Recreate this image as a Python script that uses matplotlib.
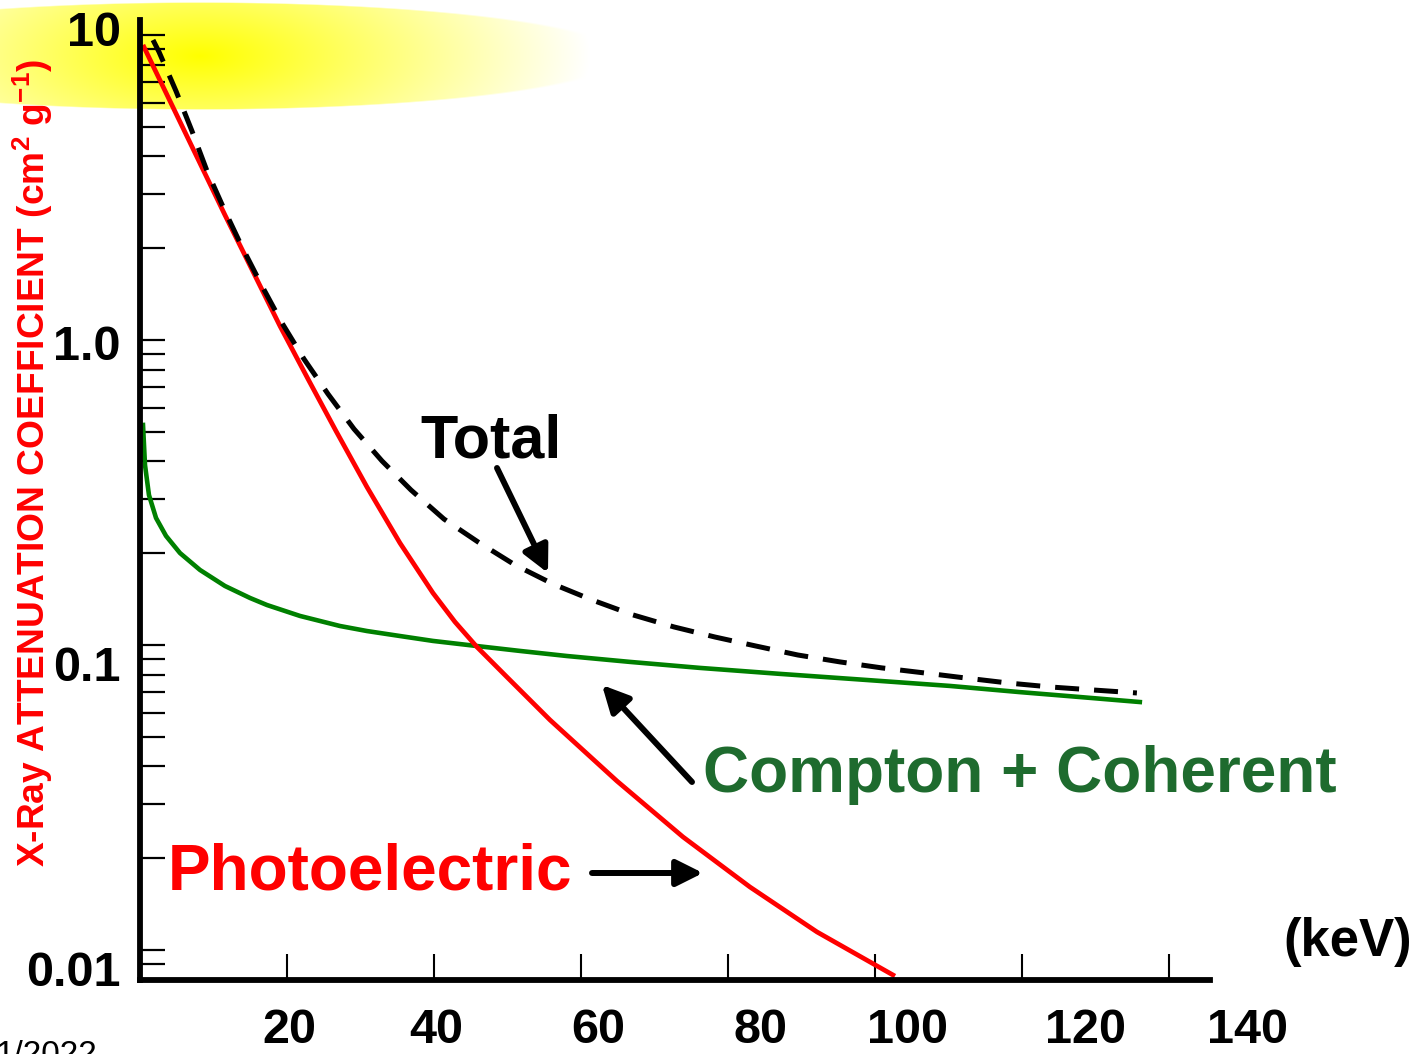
import numpy as np
import matplotlib
matplotlib.use("Agg")
import matplotlib.pyplot as plt
from matplotlib.ticker import FixedLocator, LogLocator, NullFormatter
from matplotlib.transforms import ScaledTranslation

# photon energy (keV) vs mass attenuation coefficient (cm^2/g)
photo_kev = [0.54, 11.56, 19.05, 22.86, 26.67, 30.88, 35.37, 39.86, 42.86,
             45.85, 49.93, 55.78, 64.90, 73.88, 82.99, 92.11, 102.45]
photo_mu = [9.13, 2.569, 1.111, 0.745, 0.503, 0.3296, 0.216, 0.1481, 0.119,
            0.0985, 0.0785, 0.0568, 0.0358, 0.02348, 0.01609, 0.01146, 0.00828]

total_kev = [1.77, 2.59, 4.90, 7.07, 9.12, 11.43, 13.88, 16.60, 19.32, 22.31,
             25.58, 29.12, 32.93, 36.87, 41.36, 45.99, 51.02, 56.19, 61.50,
             67.07, 72.65, 78.23, 83.81, 89.52, 95.24, 100.95, 106.67, 112.38,
             118.23, 123.95, 129.66, 135.65]
total_mu = [9.63, 8.80, 6.55, 4.844, 3.582, 2.689, 2.018, 1.503, 1.137, 0.8663,
            0.6653, 0.5108, 0.4012, 0.3223, 0.2588, 0.2177, 0.183, 0.1585,
            0.1405, 0.1255, 0.1146, 0.1062, 0.0992, 0.0927, 0.088, 0.0841,
            0.081, 0.0779, 0.075, 0.0728, 0.0712, 0.0696]

compton_kev = [0.41, 0.68, 1.22, 2.18, 3.54, 5.44, 8.16, 11.56, 14.97, 17.28,
               21.77, 27.21, 30.88, 35.37, 39.86, 45.85, 51.70, 58.09, 66.67,
               76.19, 87.07, 98.78, 110.20, 119.59, 127.89, 136.05]
compton_mu = [0.5265, 0.3892, 0.3102, 0.2609, 0.2278, 0.2002, 0.1762, 0.1561,
              0.1426, 0.1352, 0.1245, 0.1154, 0.1111, 0.107, 0.1031, 0.0992,
              0.0956, 0.092, 0.088, 0.0841, 0.0804, 0.0768, 0.0734, 0.0701,
              0.0675, 0.065]

x_ticks = [20, 40, 60, 80, 100, 120, 140]
y_ticks = [0.01, 0.1, 1, 10]
y_ticklabels = ["0.01", "0.1", "1.0", "10"]

W, H = 1418, 1054
RED = "#ff0000"
DARK_GREEN = "#1e6b2e"

plt.rcParams['font.family'] = ['Liberation Sans', 'DejaVu Sans']
plt.rcParams['font.weight'] = 'bold'
plt.rcParams['mathtext.fontset'] = 'custom'
for k in ('rm', 'it', 'bf', 'sf'):
    plt.rcParams['mathtext.' + k] = 'Liberation Sans:bold'


def fig_frac(x, y):
    # pixel position (from top-left) -> figure fraction
    return x / W, 1 - y / H


fig = plt.figure(figsize=(W / 100, H / 100), dpi=100)

# yellow glow at the top-left corner
bg = fig.add_axes([0, 0, 1, 1], zorder=0)
gx, gy = np.meshgrid(np.arange(660) + 0.5, np.arange(120) + 0.5)
cx, cy = 200, 56
d = np.sqrt(((gx - cx) / 425) ** 2 + ((gy - cy) / 54) ** 2)
s = np.clip(1 - np.sqrt(((gx - cx) / 390) ** 2 + ((gy - cy) / 150) ** 2), 0, 1)
glow = np.ones((120, 660, 4))
glow[..., 2] = 1 - s
glow[..., 3] = np.clip((1 - d) * 40, 0, 1)
bg.imshow(glow, extent=[0, 660, 120, 0], interpolation='bilinear', aspect='auto')
bg.set_xlim(0, W)
bg.set_ylim(H, 0)
bg.axis('off')

# main log plot
ax = fig.add_axes([140 / W, 1 - 980 / H, 1070 / W, 960 / H], zorder=1)
ax.patch.set_alpha(0)
ax.set_yscale('log')
ax.set_xlim(0, 145.6)
ax.set_ylim(0.00797, 11.2)

ax.plot(compton_kev, compton_mu, color='#008000', lw=3.3)
ax.plot(photo_kev, photo_mu, color=RED, lw=3.4)
ax.plot(total_kev, total_mu, color='black', lw=3.6, dashes=(4.8, 3.0))

for side in ('top', 'right'):
    ax.spines[side].set_visible(False)
for side in ('left', 'bottom'):
    ax.spines[side].set_linewidth(4.2)
    ax.spines[side].set_capstyle('projecting')

ax.xaxis.set_major_locator(FixedLocator(x_ticks))
ax.set_xticklabels([str(v) for v in x_ticks])
ax.tick_params(axis='x', direction='in', length=19, width=1.5, pad=20, labelsize=35)

ax.yaxis.set_major_locator(FixedLocator(y_ticks))
ax.yaxis.set_minor_locator(LogLocator(base=10, subs=np.arange(2, 10), numticks=20))
ax.yaxis.set_minor_formatter(NullFormatter())
ax.set_yticklabels(y_ticklabels)
ax.tick_params(axis='y', which='both', direction='in', length=18, width=1.6, pad=14,
               labelsize=35)

# tick labels sit a little off their ticks
x_shift = [2, 2, 17, 33, 33, 64, 79]
for lab, dx in zip(ax.get_xticklabels(), x_shift):
    lab.set_transform(lab.get_transform() + ScaledTranslation(dx / 100, 0, fig.dpi_scale_trans))
y_shift = [19, 19, 3, -7]
for lab, dy in zip(ax.get_yticklabels(), y_shift):
    lab.set_transform(lab.get_transform() + ScaledTranslation(0, -dy / 100, fig.dpi_scale_trans))

# labels
fig.text(*fig_frac(33, 463), 'X-Ray ATTENUATION COEFFICIENT (cm$^2$ g$^{-1}$)',
         rotation=90, ha='center', va='center', color=RED, fontsize=26.7)
fig.text(*fig_frac(1283, 956), '(keV)', fontsize=38, ha='left', va='baseline')
fig.text(*fig_frac(420, 457), 'Total', fontsize=44, ha='left', va='baseline')
fig.text(*fig_frac(703, 792), 'Compton + Coherent', fontsize=46, ha='left',
         va='baseline', color=DARK_GREEN)
fig.text(*fig_frac(168, 890), 'Photoelectric', fontsize=46, ha='left',
         va='baseline', color=RED)
fig.text(*fig_frac(-4, 1064), '1/2022', fontsize=24, fontweight='normal',
         ha='left', va='baseline')

arrow = dict(arrowstyle='-|>,head_length=0.8,head_width=0.4', mutation_scale=20,
             lw=4.3, color='black', shrinkA=0, shrinkB=0)
for tail, tip in [((497, 468), (548, 573)),
                  ((692, 782), (602, 685)),
                  ((592, 873), (703, 873))]:
    ax.annotate('', xy=(tip[0], H - tip[1]), xytext=(tail[0], H - tail[1]),
                xycoords='figure pixels', textcoords='figure pixels', arrowprops=arrow)

fig.savefig('out.png', dpi=100)
